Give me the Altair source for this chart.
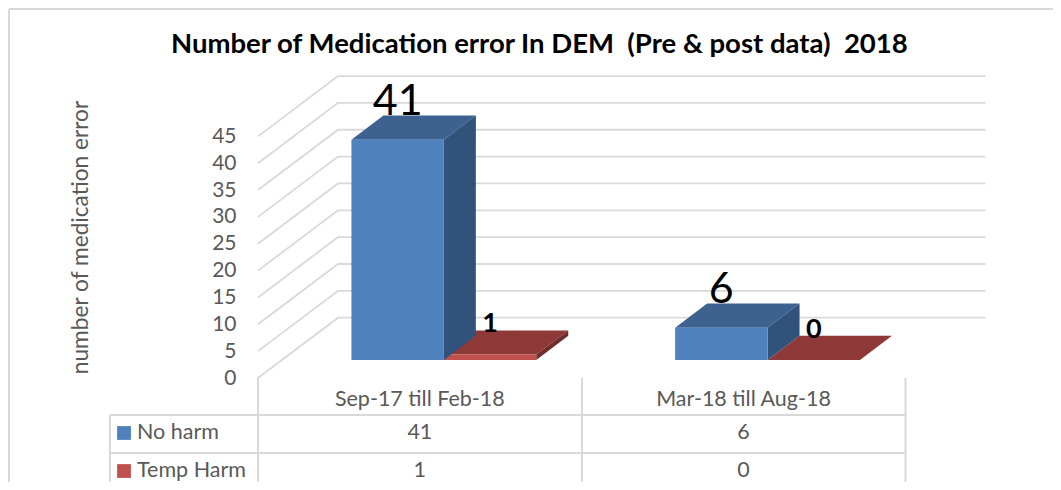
import altair as alt
import pandas as pd

categories = ["Sep-17 till Feb-18", "Mar-18 till Aug-18"]
series = ["No harm", "Temp Harm"]
no_harm = [41, 6]
temp_harm = [1, 0]
ticks = [0, 5, 10, 15, 20, 25, 30, 35, 40, 45]
face_colors = {
    "No harm": {"front": "#4f81bd", "top": "#3d6290", "side": "#31527a"},
    "Temp Harm": {"front": "#c0504d", "top": "#8e3937", "side": "#6f2d2b"},
}
FONT = "Lato"
TEXT = "#595959"
LINE = "#d9d9d9"

W, H = 1045, 474
SLOT_PX, UNIT_PX = 323.7, 5.37
X0, Y0 = 250.0, 370.0  # front-left floor corner inside the view
DX, DY = 80 / SLOT_PX, 60.3 / UNIT_PX  # shift of the full chart depth, in scale units
D0, D1 = 0.3, 0.7  # depth range of bars
BAR_L, BAR_W = 0.2145, 0.2855

xs = alt.Scale(domain=[-X0 / SLOT_PX, (W - X0) / SLOT_PX], nice=False, zero=False)
ys = alt.Scale(domain=[-(H - Y0) / UNIT_PX, Y0 / UNIT_PX], nice=False, zero=False)
y_axis = alt.Axis(
    values=ticks, offset=-228, domain=False, ticks=False, grid=False,
    labelPadding=0, labelFont=FONT, labelFontSize=21, labelColor=TEXT,
    title="number of medication error", titleFont=FONT, titleFontSize=22.7,
    titleFontWeight="normal", titleColor=TEXT, titleX=-156, titleY=229,
    titleAngle=270, titleAlign="center", titleBaseline="middle",
)


def X(f, **k):
    return alt.X(f, scale=xs, axis=None, **k)


def Y(f, **k):
    return alt.Y(f, scale=ys, axis=y_axis, **k)


layers = []

# chart frame
layers.append(alt.Chart().mark_rule(color=LINE, strokeWidth=2).encode(
    x=alt.value(1), x2=alt.value(W), y=alt.value(1)))
layers.append(alt.Chart().mark_rule(color=LINE, strokeWidth=2).encode(
    x=alt.value(1), y=alt.value(1), y2=alt.value(H)))

# wall and floor gridlines, with the value axis attached
rows = []
for t in ticks:
    rows += [
        {"t": t, "o": 0, "x": 0, "y": t},
        {"t": t, "o": 1, "x": DX, "y": t + DY},
        {"t": t, "o": 2, "x": 2 + DX, "y": t + DY},
    ]
layers.append(
    alt.Chart(pd.DataFrame(rows)).mark_line(color=LINE, strokeWidth=1.8).encode(
        x=X("x:Q"), y=Y("y:Q"), detail="t:N", order="o:Q",
    )
)

# table lines
for y, a in [(407, 102), (445, 102)]:
    layers.append(alt.Chart().mark_rule(color=LINE, strokeWidth=2).encode(
        x=alt.value(a), x2=alt.value(897.5), y=alt.value(y)))
for x, top in [(102, 407), (250, 370), (574, 370), (897.5, 370)]:
    layers.append(alt.Chart().mark_rule(color=LINE, strokeWidth=2).encode(
        x=alt.value(x), y=alt.value(top), y2=alt.value(H)))

# 3-D columns: back series first, so the front one's side covers it
values = {"No harm": no_harm, "Temp Harm": temp_harm}
for s_i, s in reversed(list(enumerate(series))):
    col = face_colors[s]
    for c_i, _ in enumerate(categories):
        v = values[s][c_i]
        l = c_i + BAR_L + s_i * BAR_W
        r = l + BAR_W
        top = pd.DataFrame([
            {"y": v + D0 * DY, "x": l + D0 * DX, "x2": r + D0 * DX},
            {"y": v + D1 * DY, "x": l + D1 * DX, "x2": r + D1 * DX},
        ])
        layers.append(alt.Chart(top).mark_area(orient="horizontal", color=col["top"]).encode(
            x=X("x:Q"), x2="x2:Q", y=Y("y:Q")))
        if v > 0:
            side = pd.DataFrame([
                {"x": r + D0 * DX, "y": D0 * DY, "y2": v + D0 * DY},
                {"x": r + D1 * DX, "y": D1 * DY, "y2": v + D1 * DY},
            ])
            layers.append(alt.Chart(side).mark_area(orient="vertical", color=col["side"]).encode(
                x=X("x:Q"), y=Y("y:Q"), y2="y2:Q"))
            front = pd.DataFrame([{"x": l + D0 * DX, "x2": r + D0 * DX, "y": D0 * DY, "y2": v + D0 * DY}])
            layers.append(alt.Chart(front).mark_rect(color=col["front"]).encode(
                x=X("x:Q"), x2="x2:Q", y=Y("y:Q"), y2="y2:Q"))

# data labels
label_rows = []
for s_i, s in enumerate(series):
    for c_i, _ in enumerate(categories):
        v = values[s][c_i]
        label_rows.append({
            "s": s, "v": v,
            "x": c_i + BAR_L + (s_i + 0.5) * BAR_W + D0 * DX,
            "y": v + D1 * DY,
        })
labels = pd.DataFrame(label_rows)
layers.append(
    alt.Chart(labels[labels.s == "No harm"]).mark_text(
        font=FONT, fontSize=43, color="#000000", baseline="alphabetic", align="center", dy=-1
    ).encode(x=X("x:Q"), y=Y("y:Q"), text="v:Q")
)
layers.append(
    alt.Chart(labels[labels.s == "Temp Harm"]).mark_text(
        font=FONT, fontSize=27, fontWeight="bold", color="#000000", baseline="alphabetic", align="center", dy=2
    ).encode(x=X("x:Q"), y=Y("y:Q"), text="v:Q")
)

# table text: categories and values sit at the category centres
table_size = 21.5
cat_df = pd.DataFrame({"x": [i + 0.5 for i in range(len(categories))], "t": categories})
layers.append(
    alt.Chart(cat_df).mark_text(font=FONT, fontSize=table_size, color=TEXT, baseline="middle").encode(
        x=X("x:Q"), y=alt.value(392), text="t:N")
)
for row_y, s in [(425, "No harm"), (463, "Temp Harm")]:
    row_df = pd.DataFrame({"x": [i + 0.5 for i in range(len(categories))], "v": values[s]})
    layers.append(
        alt.Chart(row_df).mark_text(font=FONT, fontSize=table_size, color=TEXT, baseline="middle").encode(
            x=X("x:Q"), y=alt.value(row_y), text="v:Q")
    )
    layers.append(
        alt.Chart(pd.DataFrame({"s": [s]})).mark_square(size=190, opacity=1, filled=True).encode(
            x=alt.value(116), y=alt.value(row_y),
            color=alt.Color("s:N", legend=None, scale=alt.Scale(
                domain=series, range=[face_colors[k]["front"] for k in series])),
        )
    )
    layers.append(
        alt.Chart(pd.DataFrame({"s": [s]})).mark_text(
            font=FONT, fontSize=table_size, color=TEXT, baseline="middle", align="left"
        ).encode(x=alt.value(129), y=alt.value(row_y), text="s:N")
    )

chart = (
    alt.layer(*layers)
    .properties(
        width=W, height=H, padding=0,
        autosize=alt.AutoSizeParams(type="none"),
        title=alt.TitleParams(
            "Number of Medication error In DEM\u00a0\u00a0(Pre & post data)\u00a0\u00a02018",
            anchor="start", frame="group", dx=163, dy=64, offset=0,
            font=FONT, fontSize=27.5, fontWeight="bold", color="#000000", baseline="middle",
        ),
    )
    .configure_view(stroke=None)
)
chart.save("out.html", embed_options={"renderer": "svg", "actions": False})
